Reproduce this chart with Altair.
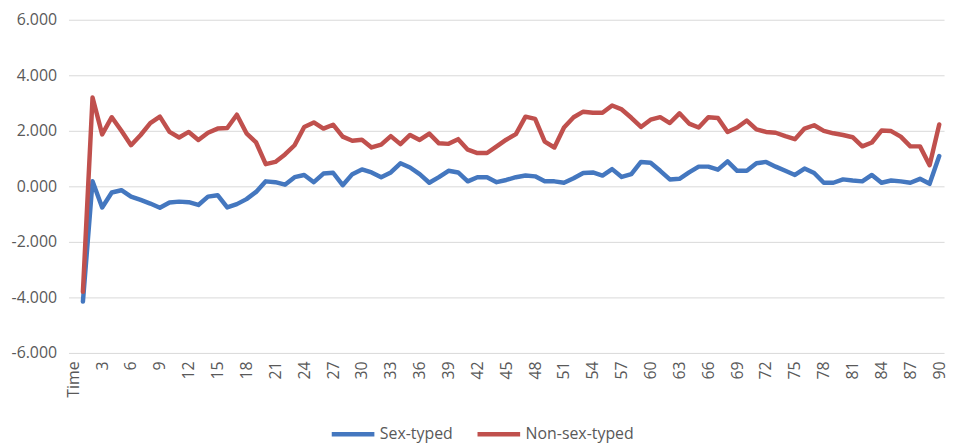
import altair as alt
import pandas as pd

times = [str(k) for k in range(1, 91)]
categories = ["Time"] + times
tick_labels = ["Time"] + [str(k) for k in range(3, 91, 3)]
y_ticks = [-6, -4, -2, 0, 2, 4, 6]

series_names = ["Sex-typed", "Non-sex-typed"]
series_colors = ["#4477BF", "#C0504D"]

sex_typed = [
    -4.15, 0.18, -0.76, -0.22, -0.14, -0.37, -0.49, -0.62, -0.77, -0.58,
    -0.55, -0.57, -0.67, -0.37, -0.32, -0.76, -0.64, -0.46, -0.20, 0.18,
    0.15, 0.06, 0.33, 0.41, 0.15, 0.46, 0.49, 0.04, 0.44, 0.61,
    0.50, 0.33, 0.50, 0.83, 0.68, 0.44, 0.13, 0.33, 0.56, 0.50,
    0.18, 0.33, 0.33, 0.15, 0.23, 0.33, 0.39, 0.36, 0.18, 0.18,
    0.13, 0.29, 0.48, 0.50, 0.39, 0.62, 0.34, 0.44, 0.88, 0.85,
    0.56, 0.25, 0.27, 0.50, 0.71, 0.71, 0.60, 0.90, 0.56, 0.56,
    0.83, 0.88, 0.71, 0.56, 0.41, 0.64, 0.48, 0.13, 0.13, 0.25,
    0.21, 0.18, 0.41, 0.13, 0.21, 0.18, 0.13, 0.27, 0.09, 1.09,
]

non_sex_typed = [
    -3.80, 3.20, 1.87, 2.49, 2.00, 1.48, 1.85, 2.28, 2.51, 1.96,
    1.76, 1.96, 1.67, 1.93, 2.08, 2.10, 2.58, 1.91, 1.58, 0.80,
    0.88, 1.15, 1.48, 2.14, 2.30, 2.08, 2.22, 1.79, 1.64, 1.68,
    1.40, 1.50, 1.81, 1.52, 1.85, 1.67, 1.90, 1.55, 1.53, 1.70,
    1.32, 1.20, 1.20, 1.44, 1.68, 1.88, 2.51, 2.43, 1.61, 1.40,
    2.12, 2.49, 2.69, 2.65, 2.65, 2.91, 2.77, 2.47, 2.14, 2.40,
    2.49, 2.28, 2.63, 2.26, 2.12, 2.49, 2.46, 1.96, 2.12, 2.37,
    2.05, 1.96, 1.93, 1.81, 1.70, 2.08, 2.20, 2.00, 1.91, 1.85,
    1.77, 1.44, 1.58, 2.01, 1.99, 1.79, 1.44, 1.44, 0.76, 2.23,
]

df = pd.DataFrame({
    "t": times + times,
    "v": sex_typed + non_sex_typed,
    "s": [series_names[0]] * len(times) + [series_names[1]] * len(times),
})

FONT = "Open Sans"
GREY = "#595959"
FS = 16

chart = alt.Chart(df).mark_line(strokeWidth=4.5, strokeJoin="round", strokeCap="round").encode(
    x=alt.X(
        "t:N",
        sort=None,
        scale=alt.Scale(domain=categories, type="point", padding=0.5),
        axis=alt.Axis(
            values=tick_labels, labelAngle=270, title=None, ticks=False,
            domain=False, grid=False, labelPadding=8, labelFontSize=FS,
            labelColor=GREY, labelFont=FONT,
        ),
    ),
    y=alt.Y(
        "v:Q",
        scale=alt.Scale(domain=[-6, 6], nice=False, zero=False),
        axis=alt.Axis(
            values=y_ticks,
            labelExpr="(datum.value < 0 ? '-' : '') + format(abs(datum.value), '.3f')",
            title=None, ticks=False, domain=False,
            gridColor="#D9D9D9", gridWidth=1, labelPadding=12, labelFontSize=FS,
            labelColor=GREY, labelFont=FONT,
        ),
    ),
    color=alt.Color(
        "s:N",
        scale=alt.Scale(domain=series_names, range=series_colors),
        legend=alt.Legend(
            title=None, orient="none", legendX=263, legendY=394,
            direction="horizontal", symbolType="stroke", symbolStrokeWidth=4.5,
            symbolSize=1849, labelFontSize=FS, labelColor=GREY, labelFont=FONT,
            labelOffset=3, columnPadding=15, padding=0,
        ),
    ),
).properties(
    width=883,
    height=336,
    autosize=alt.AutoSizeParams(type="none"),
    padding={"left": 61, "top": 10, "right": 5, "bottom": 92},
).configure_view(stroke=None)

chart.save("out.html", embed_options={"renderer": "svg", "actions": False})
